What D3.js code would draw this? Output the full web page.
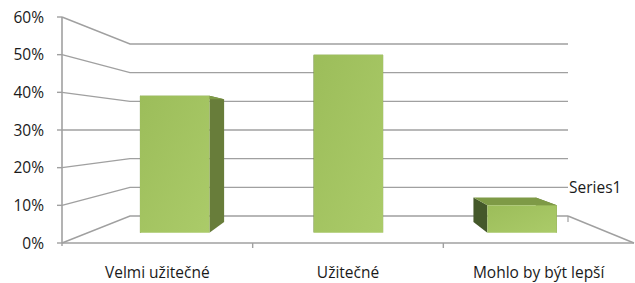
<!DOCTYPE html>
<html>
<head>
<meta charset="utf-8">
<script src="https://cdn.jsdelivr.net/npm/d3@7/dist/d3.min.js"></script>
<style>
  html, body { margin: 0; padding: 0; background: #fff; }
  svg { display: block; }
  text { font-family: "Open Sans", sans-serif; fill: #1a1a1a; }
</style>
</head>
<body>
<svg id="chart" width="635" height="283"></svg>
<script>
// ---- data ----
const categories = ["Velmi užitečné", "Užitečné", "Mohlo by být lepší"];
const values = [0.40, 0.52, 0.08];
const seriesName = "Series1";
const yTicks = [0, 0.1, 0.2, 0.3, 0.4, 0.5, 0.6];

// ---- perspective frame (front plane and back plane scales) ----
const svg = d3.select("#chart");
const xFront = d3.scaleLinear().domain([0, categories.length]).range([62, 634]);
const xBack  = d3.scaleLinear().domain([0, categories.length]).range([130, 568]);
const yFront = d3.scaleLinear().domain([0, 0.6]).range([243, 17]);
const yBack  = d3.scaleLinear().domain([0, 0.6]).range([216, 44]);
const band = d3.scaleBand().domain(categories).range([0, categories.length]).paddingInner(0).paddingOuter(0);

// project (category-units x, value v, depth t in [0,1]) to screen
function P(x, v, t) {
  const fx = xFront(x), fy = yFront(v), bx = xBack(x), by = yBack(v);
  return [fx + (bx - fx) * t, fy + (by - fy) * t];
}
const line = d3.line();
const gridColor = "#a0a0a0";

// gridlines on the left wall and back wall
const g = svg.append("g");
yTicks.forEach(v => {
  g.append("path")
    .attr("d", line([P(0, v, 0), P(0, v, 1), P(categories.length, v, 1)]))
    .attr("fill", "none").attr("stroke", gridColor).attr("stroke-width", 1.4);
});
// floor right edge
g.append("path")
  .attr("d", line([P(categories.length, 0, 1), P(categories.length, 0, 0)]))
  .attr("fill", "none").attr("stroke", gridColor).attr("stroke-width", 1.4);
// depth axis tick at back right corner
const br = P(categories.length, 0, 1);
g.append("path").attr("d", line([br, [br[0], br[1] + 6]]))
  .attr("stroke", gridColor).attr("stroke-width", 1.2);

// value axis (front left edge)
g.append("path")
  .attr("d", line([P(0, 0, 0), P(0, 0.6, 0)]))
  .attr("stroke", gridColor).attr("stroke-width", 1.6);
yTicks.forEach(v => {
  const p = P(0, v, 0);
  g.append("path").attr("d", line([[p[0] - 5, p[1]], p]))
    .attr("stroke", gridColor).attr("stroke-width", 1.4);
  g.append("text").attr("x", 44).attr("y", p[1] + 5.5)
    .attr("text-anchor", "end").attr("font-size", 15.5)
    .text(d3.format(".0%")(v));
});

// category axis (front bottom edge)
g.append("path")
  .attr("d", line([P(0, 0, 0), P(categories.length, 0, 0)]))
  .attr("stroke", gridColor).attr("stroke-width", 1.6);
d3.range(1, categories.length).forEach(i => {
  const p = P(i, 0, 0);
  g.append("path").attr("d", line([p, [p[0], p[1] + 5]]))
    .attr("stroke", gridColor).attr("stroke-width", 1.4);
});
g.append("path").attr("d", line([P(0, 0, 0), [P(0, 0, 0)[0], 246]]))
  .attr("stroke", gridColor).attr("stroke-width", 1.4);
categories.forEach(c => {
  const p = P(band(c) + band.bandwidth() / 2, 0, 0);
  g.append("text").attr("x", p[0]).attr("y", 278)
    .attr("text-anchor", "middle").attr("font-size", 15.5)
    .text(c);
});

// series (depth) axis label
g.append("text").attr("x", br[0] + 1).attr("y", br[1] - 23)
  .attr("font-size", 15.5).text(seriesName);

// ---- bars ----
const defs = svg.append("defs");
const grad = defs.append("linearGradient").attr("id", "frontGrad")
  .attr("x1", "0").attr("y1", "0").attr("x2", "1").attr("y2", "1");
grad.append("stop").attr("offset", "0").attr("stop-color", "#9cbd5a");
grad.append("stop").attr("offset", "1").attr("stop-color", "#abcb69");

const t0 = 0.38, t1 = 0.78, w0 = 0.3, w1 = 0.7;
const bars = svg.append("g");
categories.forEach((c, i) => {
  const v = values[i];
  const xl = band(c) + w0 * band.bandwidth(), xr = band(c) + w1 * band.bandwidth();
  const poly = pts => "M" + pts.map(p => p.join(",")).join("L") + "Z";
  // left side
  bars.append("path").attr("d", poly([P(xl, 0, t0), P(xl, v, t0), P(xl, v, t1), P(xl, 0, t1)]))
    .attr("fill", "#44582a");
  // right side
  bars.append("path").attr("d", poly([P(xr, 0, t0), P(xr, v, t0), P(xr, v, t1), P(xr, 0, t1)]))
    .attr("fill", "#687d3a");
  // top
  bars.append("path").attr("d", poly([P(xl, v, t0), P(xr, v, t0), P(xr, v, t1), P(xl, v, t1)]))
    .attr("fill", "#7e9a46");
  // front
  bars.append("path").attr("d", poly([P(xl, 0, t0), P(xr, 0, t0), P(xr, v, t0), P(xl, v, t0)]))
    .attr("fill", "url(#frontGrad)");
});
</script>
</body>
</html>
